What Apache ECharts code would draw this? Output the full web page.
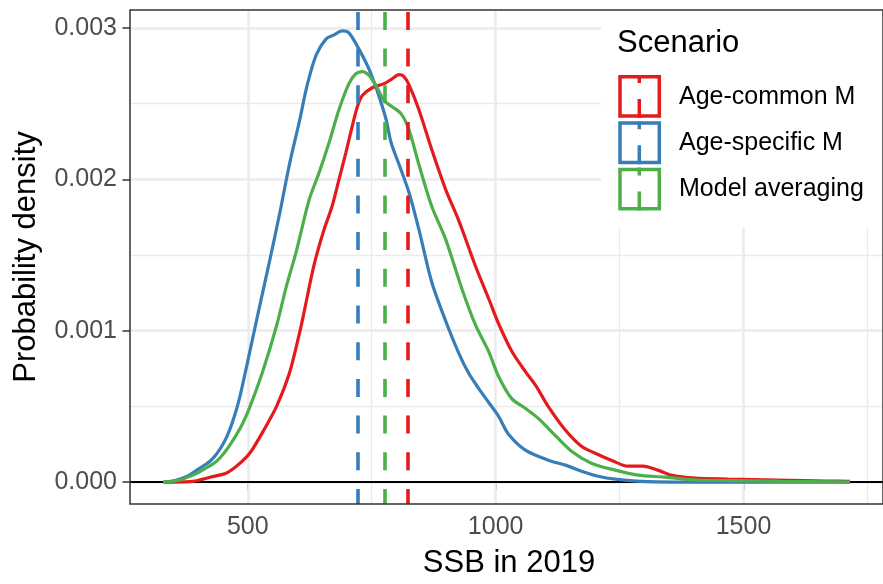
<!DOCTYPE html>
<html><head><meta charset="utf-8">
<script src="https://cdn.jsdelivr.net/npm/echarts@6/dist/echarts.min.js"></script>
<style>html,body{margin:0;padding:0;background:#fff}#c{width:883px;height:584px}</style>
</head><body><div id="c"></div>
<script>
// ---- data ----
const scenarios = ['Age-common M', 'Age-specific M', 'Model averaging'];
const colors = ['#E41A1C', '#377EB8', '#4DAF4A'];

const redX = [330, 383, 429, 457, 477, 497, 509, 530, 558, 584, 604, 614, 634, 654, 670, 684, 698, 710, 721, 731, 751, 775, 791, 805, 815, 825, 845, 871, 899, 926, 960, 986, 1006, 1032, 1060, 1082, 1106, 1141, 1173, 1201, 1233, 1267, 1297, 1327, 1354, 1402, 1468, 1569, 1669, 1715];
const redY = [0, 0.000003, 0.000036, 0.00006, 0.000105, 0.000165, 0.000215, 0.00033, 0.0005, 0.00072, 0.00098, 0.00113, 0.00144, 0.00167, 0.001822, 0.002, 0.002178, 0.002342, 0.00248, 0.002553, 0.002605, 0.002632, 0.002664, 0.002691, 0.002678, 0.002625, 0.002461, 0.002197, 0.001934, 0.001724, 0.001421, 0.001211, 0.001046, 0.000868, 0.00073, 0.000632, 0.0005, 0.000342, 0.000237, 0.000191, 0.000145, 0.000105, 0.000105, 0.000079, 0.000046, 0.000026, 0.00002, 0.000013, 0.000007, 0.000005];

const blueX = [333, 353, 379, 403, 423, 437, 451, 463, 473, 484, 504, 524, 544, 564, 584, 604, 620, 638, 658, 674, 690, 704, 725, 745, 765, 779, 789, 805, 825, 845, 871, 899, 926, 946, 966, 986, 1006, 1026, 1060, 1106, 1141, 1173, 1207, 1241, 1307, 1408, 1550, 1715];
const blueY = [0, 0.00001, 0.00004, 0.000092, 0.000136, 0.000186, 0.000256, 0.000342, 0.000437, 0.000565, 0.000862, 0.001164, 0.001461, 0.00177, 0.002099, 0.002382, 0.002625, 0.002822, 0.002928, 0.002954, 0.00298, 0.002967, 0.002855, 0.002724, 0.002546, 0.002395, 0.002243, 0.002099, 0.001914, 0.001671, 0.001322, 0.001066, 0.000849, 0.000717, 0.000618, 0.000526, 0.000434, 0.000316, 0.000211, 0.000145, 0.000112, 0.000072, 0.000039, 0.00002, 0.000003, 0, 0, 0];

const greenX = [329, 360, 389, 413, 437, 453, 469, 487, 503, 530, 558, 578, 598, 624, 644, 664, 684, 704, 718, 731, 745, 761, 775, 791, 809, 825, 845, 871, 899, 932, 960, 986, 1006, 1032, 1060, 1086, 1120, 1153, 1193, 1241, 1287, 1341, 1408, 1474, 1575, 1715];
const greenY = [0, 0.000012, 0.000046, 0.000088, 0.000138, 0.000195, 0.00027, 0.00037, 0.000487, 0.00073, 0.001033, 0.001296, 0.001526, 0.001868, 0.002046, 0.002243, 0.002461, 0.002632, 0.002697, 0.002711, 0.002684, 0.002605, 0.00252, 0.00248, 0.002434, 0.002329, 0.002099, 0.001822, 0.001605, 0.001276, 0.001033, 0.000862, 0.000697, 0.000553, 0.000487, 0.000421, 0.000309, 0.000204, 0.000125, 0.000079, 0.000046, 0.000033, 0.000013, 0.00001, 0.000005, 0];

const medians = [822, 722.5, 776];           // dashed vertical lines
const xTicks = [500, 1000, 1500];
const xMinor = [750, 1250, 1750];
const yTicks = [0, 0.001, 0.002, 0.003];
const yMinor = [0.0005, 0.0015, 0.0025];

// ---- chart ----
const FONT = '"Liberation Sans", Arial, Helvetica, sans-serif';
const zip = (xs, ys) => xs.map((x, i) => [x, ys[i]]);
const curves = [zip(redX, redY), zip(blueX, blueY), zip(greenX, greenY)];

const gridLines = [];
xMinor.forEach(v => gridLines.push({ xAxis: v, lineStyle: { color: '#EBEBEB', width: 1.3, type: 'solid' } }));
yMinor.forEach(v => gridLines.push({ yAxis: v, lineStyle: { color: '#EBEBEB', width: 1.3, type: 'solid' } }));
xTicks.forEach(v => gridLines.push({ xAxis: v, lineStyle: { color: '#EBEBEB', width: 2.6, type: 'solid' } }));
yTicks.forEach(v => gridLines.push({ yAxis: v, lineStyle: { color: '#EBEBEB', width: 2.6, type: 'solid' } }));

const series = [
  { type: 'line', data: [], silent: true, z: 1,
    markLine: { z: 1, precision: 10, silent: true, symbol: 'none', animation: false, label: { show: false }, data: gridLines } },
  { type: 'line', data: [], silent: true, z: 2,
    markLine: { z: 2, precision: 10, silent: true, symbol: 'none', animation: false, label: { show: false },
      data: [{ yAxis: 0, lineStyle: { color: '#000', width: 2, type: 'solid' } }] } }
];
scenarios.forEach((name, i) => {
  series.push({
    name, type: 'line', data: curves[i], showSymbol: false, symbol: 'none',
    smooth: 0.3, z: 3,
    lineStyle: { color: colors[i], width: 3.2 }, itemStyle: { color: colors[i] },
    markLine: { z: 4, precision: 10, silent: true, symbol: 'none', animation: false, label: { show: false },
      data: [{ xAxis: medians[i], lineStyle: { color: colors[i], width: 3.6, type: [18, 18.7], dashOffset: 3 } }] }
  });
});

const graphic = [
  { type: 'rect', z: 1.5, silent: true, shape: { x: 601, y: 11, width: 290, height: 217 }, style: { fill: '#fff' } },
  { type: 'text', z: 10, x: 617, y: 43.5, style: { text: 'Scenario', fontSize: 31, fontFamily: FONT, fill: '#000', verticalAlign: 'middle', align: 'left' } }
];
scenarios.forEach((name, i) => {
  const top = 75 + i * 46.3;
  graphic.push({ type: 'rect', z: 10, shape: { x: 620, y: top + 1.8, width: 39.3, height: 39.3 }, style: { fill: '#fff', stroke: colors[i], lineWidth: 3.5 } });
  graphic.push({ type: 'line', z: 11, shape: { x1: 639.3, y1: top + 43, x2: 639.3, y2: top }, style: { stroke: colors[i], lineWidth: 3.5, lineDash: [19, 16] } });
  graphic.push({ type: 'text', z: 10, x: 679, y: top + 21.7, style: { text: name, fontSize: 25, fontFamily: FONT, fill: '#000', verticalAlign: 'middle', align: 'left' } });
});

const chart = echarts.init(document.getElementById('c'), null, { renderer: 'canvas' });
chart.setOption({
  animation: false,
  backgroundColor: '#fff',
  textStyle: { fontFamily: FONT },
  grid: { left: 130, right: -3, top: 10, bottom: 78, show: true, borderColor: '#333333', borderWidth: 1.5, backgroundColor: 'transparent', z: 6 },
  xAxis: {
    type: 'value', min: 262.3, max: 1781.5,
    axisLine: { show: false },
    axisTick: { show: true, length: 7.5, customValues: xTicks, lineStyle: { color: '#333333', width: 1.5 } },
    axisLabel: { show: true, customValues: xTicks, color: '#4D4D4D', fontSize: 25, fontFamily: FONT, margin: 11, formatter: v => String(v) },
    splitLine: { show: false },
    name: 'SSB in 2019', nameLocation: 'middle', nameGap: 44,
    nameTextStyle: { fontSize: 31, color: '#000', fontFamily: FONT, padding: [0, 0, 0, 5] }
  },
  yAxis: {
    type: 'value', min: -0.0001447, max: 0.0031184,
    axisLine: { show: false },
    axisTick: { show: true, length: 7.5, customValues: yTicks, lineStyle: { color: '#333333', width: 1.5 } },
    axisLabel: { show: true, customValues: yTicks, color: '#4D4D4D', fontSize: 25, fontFamily: FONT, margin: 13, formatter: v => Number(v).toFixed(3) },
    splitLine: { show: false },
    name: 'Probability density', nameLocation: 'middle', nameGap: 88,
    nameTextStyle: { fontSize: 31, color: '#000', fontFamily: FONT }
  },
  series,
  graphic
});
</script>
</body></html>
